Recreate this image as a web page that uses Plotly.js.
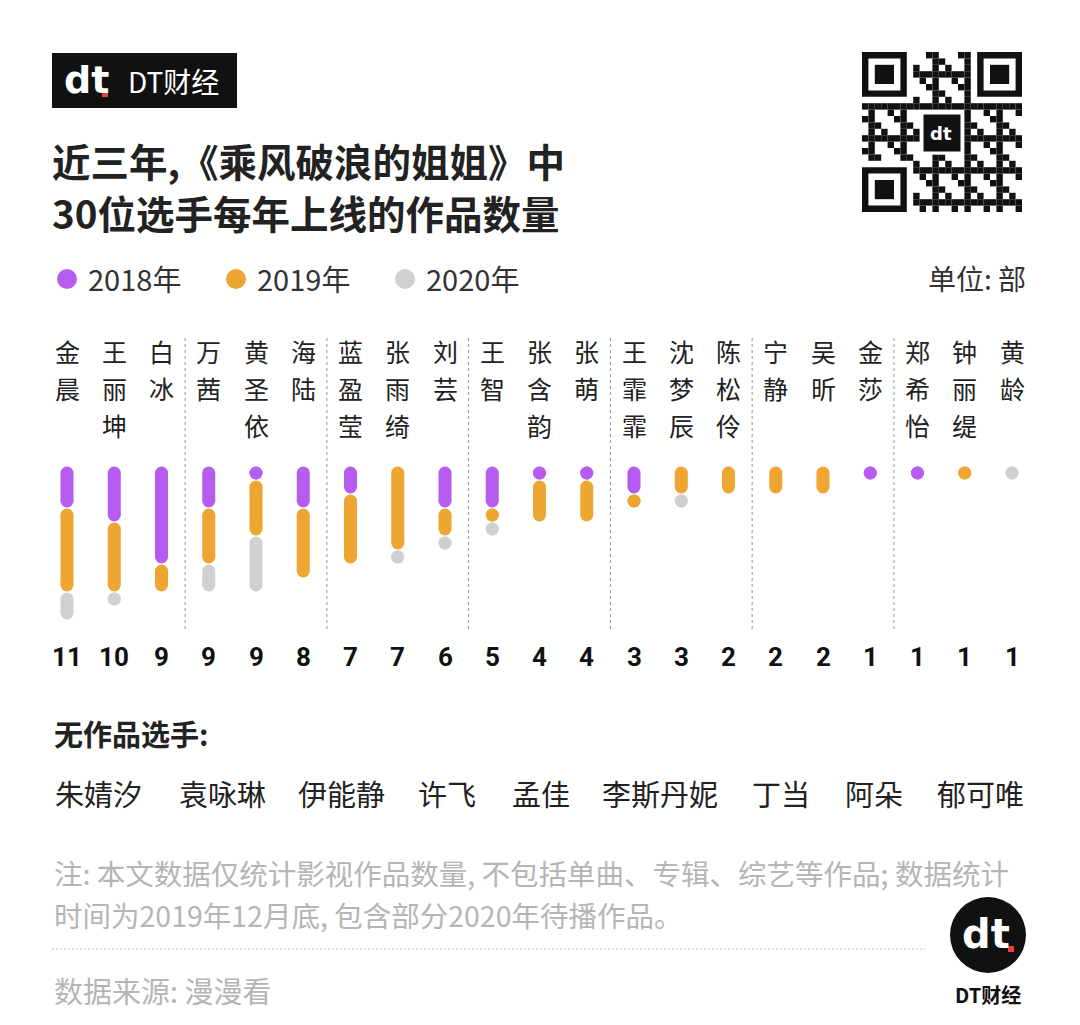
<!DOCTYPE html>
<html>
<head>
<meta charset="utf-8">
<script src="https://cdn.plot.ly/plotly-3.0.1.min.js"></script>
<style>
  html, body { margin: 0; padding: 0; background: #fff; }
  #chart { width: 1080px; height: 1025px; }
</style>
</head>
<body>
<div id="chart"></div>
<script>
// 选手 (按作品总数排序)
const members = ['金晨','王丽坤','白冰','万茜','黄圣依','海陆','蓝盈莹','张雨绮','刘芸','王智','张含韵','张萌','王霏霏','沈梦辰','陈松伶','宁静','吴昕','金莎','郑希怡','钟丽缇','黄龄'];
const works2018 = [3,4,7,3,1,3,2,0,3,3,1,1,2,0,0,0,0,1,1,0,0];
const works2019 = [6,5,2,4,4,5,5,6,2,1,3,3,1,2,2,2,2,0,0,1,0];
const works2020 = [2,1,0,2,4,0,0,1,1,1,0,0,0,1,0,0,0,0,0,0,1];
const seriesNames = ['2018年','2019年','2020年'];
const seriesColors = ['#b65cf0','#eea632','#d0d0d0'];
const noWorks = ['朱婧汐','袁咏琳','伊能静','许飞','孟佳','李斯丹妮','丁当','阿朵','郁可唯'];
const noteLines = ['注: 本文数据仅统计影视作品数量, 不包括单曲、专辑、综艺等作品; 数据统计', '时间为2019年12月底, 包含部分2020年待播作品。'];

const W = 1080, H = 1025;
const FONT = '"Noto Sans CJK SC", "Noto Sans", sans-serif';
const px = x => x / W;
const py = y => 1 - y / H;

function buildTraces(){
    const base = members.map(() => 0);
    return [works2018, works2019, works2020].map((vals, k) => {
        const xs = [], ys = [];
        vals.forEach((v, i) => {
            if(v > 0){
                xs.push(i, i, null);
                ys.push(base[i] + 0.5, base[i] + v - 0.5, null);
            }
            base[i] += v;
        });
        return {
            type: 'scatter', mode: 'lines+markers', name: seriesNames[k],
            x: xs, y: ys, connectgaps: false,
            line: {color: seriesColors[k], width: 13},
            marker: {color: seriesColors[k], size: 13},
            hoverinfo: 'skip', showlegend: false
        };
    });
}

function text(x, y, t, size, opts = {}){
    return Object.assign({
        xref: 'paper', yref: 'paper', x: px(x), y: py(y), text: t,
        showarrow: false, xanchor: 'left', yanchor: 'middle',
        font: {family: FONT, size, color: '#222'}
    }, opts);
}

function visualize(){
    const annotations = [];
    const shapes = [];

    // header logo
    shapes.push({type: 'rect', xref: 'paper', yref: 'paper', x0: px(52), x1: px(237), y0: py(53), y1: py(108), fillcolor: '#111', line: {width: 0}});
    annotations.push(text(62, 80, '<b>dt</b>', 38, {font: {family: 'DejaVu Sans', size: 38, color: '#fff'}}));
    shapes.push({type: 'rect', xref: 'paper', yref: 'paper', x0: px(102), x1: px(108), y0: py(91), y1: py(97), fillcolor: '#e8413c', line: {width: 0}});
    annotations.push(text(126, 81, 'DT财经', 28, {font: {family: FONT, size: 28, color: '#fff'}}));

    // title
    annotations.push(text(50, 160, '<b>近三年,《乘风破浪的姐姐》中</b>', 38.5));
    annotations.push(text(50, 212, '<b>30位选手每年上线的作品数量</b>', 38.5));

    // legend
    const legendX = [67, 236, 405];
    seriesNames.forEach((n, k) => {
        shapes.push({type: 'circle', xref: 'paper', yref: 'paper', x0: px(legendX[k] - 10), x1: px(legendX[k] + 10), y0: py(269), y1: py(289), fillcolor: seriesColors[k], line: {width: 0}});
        annotations.push(text(legendX[k] + 19, 278, n, 29, {font: {family: FONT, size: 29, color: '#333'}}));
    });
    annotations.push(text(1028, 278, '单位: 部', 28, {xanchor: 'right', font: {family: FONT, size: 28, color: '#333'}}));

    // names (vertical, one character per row) and totals
    members.forEach((m, i) => {
        [...m].forEach((ch, k) => {
            annotations.push({xref: 'x', yref: 'paper', x: i, y: py(351 + k * 37), text: ch, showarrow: false,
                xanchor: 'center', yanchor: 'middle', font: {family: FONT, size: 25, color: '#222'}});
        });
        const total = works2018[i] + works2019[i] + works2020[i];
        annotations.push({xref: 'x', yref: 'paper', x: i, y: py(657), text: '<b>' + total + '</b>', showarrow: false,
            xanchor: 'center', yanchor: 'middle', font: {family: 'Roboto, sans-serif', size: 26, color: '#111'}});
    });

    // group separators
    for(let g = 1; g < members.length / 3; g++){
        shapes.push({type: 'line', xref: 'x', yref: 'paper', x0: g * 3 - 0.5, x1: g * 3 - 0.5, y0: py(338), y1: py(632),
            line: {color: '#999', width: 1, dash: '3px,3px'}});
    }

    // no works
    annotations.push(text(52, 733, '<b>无作品选手:</b>', 29));
    const noWorksX = [53, 177, 296, 416, 510, 600, 750, 843, 935];
    noWorks.forEach((n, k) => annotations.push(text(noWorksX[k], 793, n, 29)));

    // notes
    const grey = size => ({family: FONT, size, color: '#b5b5b5'});
    noteLines.forEach((t, k) => annotations.push(text(52, 872 + k * 42, t, 28.5, {font: grey(28.5)})));
    shapes.push({type: 'line', xref: 'paper', yref: 'paper', x0: px(52), x1: px(925), y0: py(949), y1: py(949),
        line: {color: '#bbb', width: 1, dash: '2px,2px'}});
    annotations.push(text(52, 990, '数据来源: 漫漫看', 29, {font: grey(29)}));

    // bottom logo
    shapes.push({type: 'circle', xref: 'paper', yref: 'paper', x0: px(950), x1: px(1026), y0: py(897), y1: py(973), fillcolor: '#111', line: {width: 0}});
    annotations.push(text(986, 934, '<b>dt</b>', 40, {xanchor: 'center', font: {family: 'DejaVu Sans', size: 40, color: '#fff'}}));
    shapes.push({type: 'rect', xref: 'paper', yref: 'paper', x0: px(1008), x1: px(1014), y0: py(946), y1: py(952), fillcolor: '#e8413c', line: {width: 0}});
    annotations.push(text(988, 994, '<b>DT财经</b>', 20, {xanchor: 'center', font: {family: FONT, size: 20, color: '#111'}}));

    // QR code style block
    const qx = 862, qy = 52, n = 25, m = 160 / n;
    const cell = (c, r, col) => shapes.push({type: 'rect', xref: 'paper', yref: 'paper',
        x0: px(qx + c * m), x1: px(qx + (c + 1) * m), y0: py(qy + r * m), y1: py(qy + (r + 1) * m), fillcolor: col, line: {width: 0}});
    const inFinder = (c, r) => (c < 8 && r < 8) || (c > n - 9 && r < 8) || (c < 8 && r > n - 9);
    const inLogo = (c, r) => c >= 9 && c <= 15 && r >= 9 && r <= 15;
    for(let r = 0; r < n; r++){
        for(let c = 0; c < n; c++){
            if(inFinder(c, r) || inLogo(c, r)) continue;
            if(((r * 7 + c * 11 + r * c * 3) % 5) < 2) cell(c, r, '#111');
        }
    }
    [[0, 0], [n - 7, 0], [0, n - 7]].forEach(([c, r]) => {
        shapes.push({type: 'rect', xref: 'paper', yref: 'paper', x0: px(qx + c * m), x1: px(qx + (c + 7) * m), y0: py(qy + r * m), y1: py(qy + (r + 7) * m), fillcolor: '#111', line: {width: 0}});
        shapes.push({type: 'rect', xref: 'paper', yref: 'paper', x0: px(qx + (c + 1) * m), x1: px(qx + (c + 6) * m), y0: py(qy + (r + 1) * m), y1: py(qy + (r + 6) * m), fillcolor: '#fff', line: {width: 0}});
        shapes.push({type: 'rect', xref: 'paper', yref: 'paper', x0: px(qx + (c + 2) * m), x1: px(qx + (c + 5) * m), y0: py(qy + (r + 2) * m), y1: py(qy + (r + 5) * m), fillcolor: '#111', line: {width: 0}});
    });
    shapes.push({type: 'rect', xref: 'paper', yref: 'paper', x0: px(922), x1: px(962), y0: py(113), y1: py(153), fillcolor: '#111', line: {color: '#fff', width: 3}});
    annotations.push(text(941, 133, '<b>dt</b>', 18, {xanchor: 'center', font: {family: 'DejaVu Sans', size: 18, color: '#fff'}}));

    // x: column 0 at 67px, 47.25px per column; y: 0 at 466px, 14px per unit
    const colW = 47.25, unit = 14;
    const layout = {
        width: W, height: H,
        margin: {l: 0, r: 0, t: 0, b: 0},
        paper_bgcolor: '#fff', plot_bgcolor: 'rgba(0,0,0,0)',
        xaxis: {range: [-67 / colW, (W - 67) / colW], visible: false, fixedrange: true},
        yaxis: {range: [(H - 466) / unit, -466 / unit], visible: false, fixedrange: true},
        showlegend: false,
        shapes, annotations
    };
    Plotly.newPlot('chart', buildTraces(), layout, {displayModeBar: false, staticPlot: true});
}

document.addEventListener('DOMContentLoaded', visualize);
</script>
</body>
</html>
